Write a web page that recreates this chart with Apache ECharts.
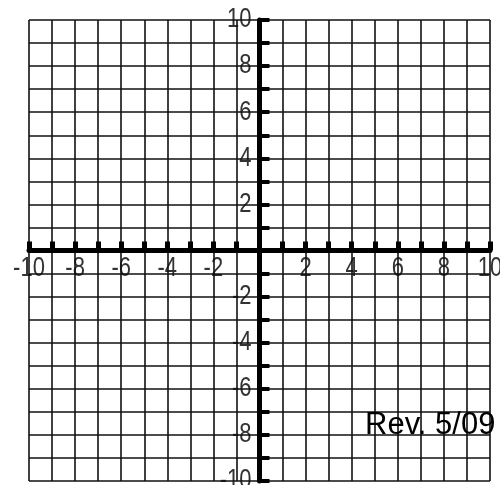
<!DOCTYPE html>
<html>
<head>
<meta charset="utf-8">
<script src="https://cdn.jsdelivr.net/npm/echarts@6/dist/echarts.min.js"></script>
<style>
  html, body { margin: 0; padding: 0; background: #fff; }
  #main { width: 500px; height: 485px; }
</style>
</head>
<body>
<div id="main"></div>
<script>
// axis ranges and the labelled ticks
var xRange = [-10, 10];
var yRange = [-10, 10];
var xLabels = [-10, -8, -6, -4, -2, 2, 4, 6, 8, 10];
var yLabels = [-10, -8, -6, -4, -2, 2, 4, 6, 8, 10];
var revNote = 'Rev. 5/09';

var chart = echarts.init(document.getElementById('main'), null, { renderer: 'canvas' });

var labelFont = "22px 'Liberation Sans', Arial, sans-serif";

function axisOpt(range, isX) {
  return {
    type: 'value',
    min: range[0],
    max: range[1],
    interval: 1,
    z: 2,
    axisLine: {
      show: true,
      onZero: true,
      lineStyle: { color: '#000', width: 5 }
    },
    axisTick: {
      show: true,
      inside: true,
      length: isX ? 9 : 10,
      lineStyle: { color: '#000', width: isX ? 5 : 4 }
    },
    axisLabel: { show: false },
    splitLine: {
      show: true,
      lineStyle: { color: '#111', width: 1.6 }
    }
  };
}

// tick labels drawn next to the axes through the cartesian scale (under the grid lines)
function labelSeries(values, isX) {
  return {
    type: 'custom',
    coordinateSystem: 'cartesian2d',
    silent: true,
    clip: false,
    z: 1,
    data: values.map(function (v) { return isX ? [v, 0] : [0, v]; }),
    renderItem: function (params, api) {
      var p = api.coord([api.value(0), api.value(1)]);
      var v = isX ? api.value(0) : api.value(1);
      return {
        type: 'text',
        x: isX ? p[0] : p[0] - 8,
        y: isX ? p[1] + 18 : p[1],
        scaleY: 1.22,
        style: {
          text: String(v),
          font: labelFont,
          fill: '#333',
          align: isX ? 'center' : 'right',
          verticalAlign: 'middle'
        }
      };
    }
  };
}

var option = {
  backgroundColor: '#fff',
  animation: false,
  grid: { left: 29, top: 20, width: 461, height: 461, containLabel: false, outerBoundsMode: 'none' },
  xAxis: axisOpt(xRange, true),
  yAxis: axisOpt(yRange, false),
  graphic: [{
    type: 'text',
    left: 365,
    top: 410,
    z: 10,
    style: {
      text: revNote,
      fill: '#000',
      fontSize: 31,
      fontFamily: "'Liberation Sans', Arial, sans-serif"
    }
  }],
  series: [
    labelSeries(xLabels, true),
    labelSeries(yLabels, false)
  ]
};

chart.setOption(option);
</script>
</body>
</html>
